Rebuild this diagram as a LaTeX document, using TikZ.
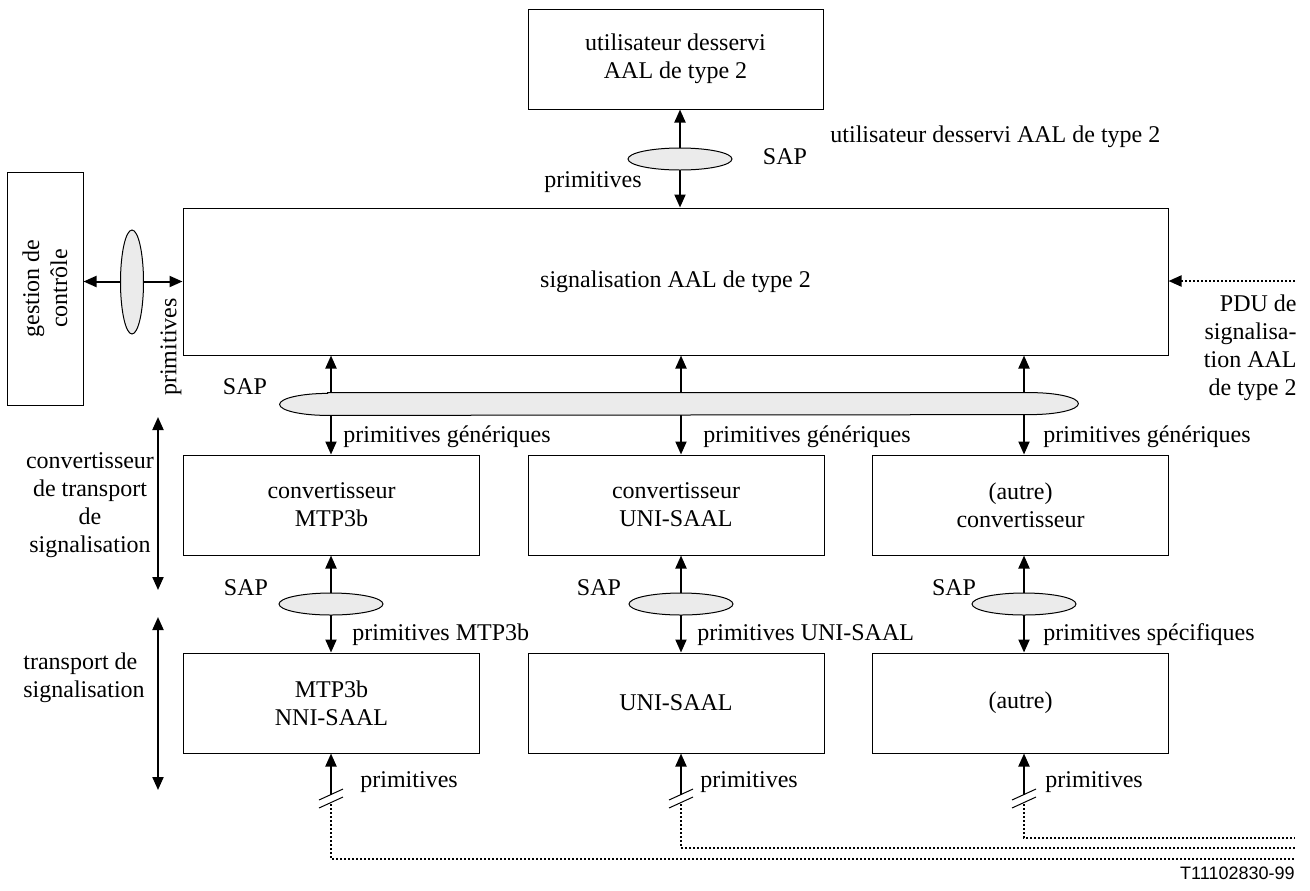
\documentclass[tikz,border=0pt]{standalone}
\usepackage{fontspec}
\setmainfont{Liberation Serif}
\newfontfamily\figsans{Liberation Sans}
\usetikzlibrary{arrows.meta,shapes.geometric}

\begin{document}
\begin{tikzpicture}[x=0.5pt,y=-0.5pt,
      every node/.style={font=\fontsize{12}{14}\selectfont,inner sep=0pt},
      box/.style={draw,line width=0.5pt,align=center,
        minimum width=148pt,minimum height=50pt},
      sap/.style={draw,ellipse,line width=0.5pt,fill=black!8,
        minimum width=52pt,minimum height=11pt},
      tip/.tip={Triangle[length=6.5pt,width=5.5pt]},
      dbl/.style={line width=1pt,tip-tip},
      up/.style={line width=1pt,-tip},
      pdu/.style={line width=1pt,dash pattern=on 1pt off 1pt}]
  \useasboundingbox (0,0) rectangle (1310,890);
  \node[box,minimum width=147.5pt] (user) at (675.5,59) {utilisateur desservi\\AAL de type 2};
  \node[box,minimum width=492.5pt,minimum height=73.5pt] (sig) at (675.5,281.5)
    {signalisation AAL de type 2};
  \node[box,rotate=90,minimum width=116.5pt,minimum height=38pt] (ctrl) at (45,288.5)
    {gestion de\\contrôle};
  \node[box] (conv1) at (331.5,505) {convertisseur\\MTP3b};
  \node[box] (conv2) at (676,505) {convertisseur\\UNI-SAAL};
  \node[box] (conv3) at (1020.5,505) {(autre)\\convertisseur};
  \node[box] (tr1) at (331.5,703) {MTP3b\\NNI-SAAL};
  \node[box] (tr2) at (676,703) {UNI-SAAL};
  \node[box] (tr3) at (1020.5,703) {(autre)};

  \coordinate (cu) at (680,0);
  \coordinate (ca) at (331,0);
  \coordinate (cb) at (681,0);
  \coordinate (cc) at (1024,0);

  \draw[dbl] (user.south -| cu) -- (sig.north -| cu);
  \draw[dbl] (ctrl.south |- sig.west) -- (sig.west);
  \coordinate (pduin) at (1295,281);
  \draw[pdu,-tip] (pduin) -- (pduin -| sig.east);
  \foreach \c/\a/\b in {ca/conv1/tr1,cb/conv2/tr2,cc/conv3/tr3}{
    \draw[dbl] (sig.south -| \c) -- (\a.north -| \c);
    \draw[dbl] (\a.south -| \c) -- (\b.north -| \c);
    \node[sap] (sap\c) at (\c |- 0,604) {};
  }
  \node[sap] (usap) at (680,159) {};
  \node[sap,minimum width=11.5pt,minimum height=52pt] (csap) at (132,282) {};
  \node[minimum width=399pt,minimum height=11pt] (gsap) at (679,404) {};
  \draw[line width=0.5pt,fill=black!8] ([xshift=24pt]gsap.north west)
    -- ([xshift=-24pt]gsap.north east)
    arc[start angle=90,end angle=-90,x radius=24pt,y radius=5.5pt]
    -- ([xshift=24pt]gsap.south west)
    arc[start angle=270,end angle=90,x radius=24pt,y radius=5.5pt] -- cycle;

  \foreach \c/\t/\y in {ca/tr1/859,cb/tr2/848,cc/tr3/838}{
    \coordinate (brk\c) at (\c |- 0,795);
    \coordinate (end\c) at (1295,\y);
    \draw[up] (brk\c) -- (\t.south -| \c);
    \draw[line width=0.5pt] ([shift={(-12,5)}]brk\c) -- ++(24,-11);
    \draw[line width=0.5pt] ([shift={(-12,13)}]brk\c) -- ++(24,-11);
    \draw[pdu] ([yshift=-4.5pt]brk\c) -- (\c |- end\c) -- (end\c);
  }

  \coordinate (lt1) at (158,417);
  \coordinate (lb1) at (158,590);
  \coordinate (lt2) at (158,617);
  \coordinate (lb2) at (158,790);
  \draw[dbl] (lt1) -- (lb1);
  \draw[dbl] (lt2) -- (lb2);

  \node (usaplbl) at (785,157) {SAP};
  \node (uprim) at (593,182) {primitives};
  \node[anchor=west] (ulbl) at (830,137) {utilisateur desservi AAL de type 2};
  \node[rotate=90] (cprim) at (171,347) {primitives};
  \node (gsaplbl) at (245,387) {SAP};
  \foreach \x[count=\i] in {343,703,1043}
    \node[anchor=west] (gen\i) at (\x,437) {primitives génériques};
  \node[align=right,anchor=east] (pdulbl) at (1297,348)
    {PDU de\\signalisa-\\tion AAL\\de type 2};
  \node[align=center] (convlbl) at (90,505)
    {convertisseur\\de transport\\de\\signalisation};
  \node[align=left,anchor=west] (trlbl) at (23,678) {transport de\\signalisation};
  \foreach \x[count=\i] in {246,599,954}
    \node (saplbl\i) at (\x,588) {SAP};
  \node[anchor=west] (sprim1) at (352,635) {primitives MTP3b};
  \node[anchor=west] (sprim2) at (697,635) {primitives UNI-SAAL};
  \node[anchor=west] (sprim3) at (1043,635) {primitives spécifiques};
  \foreach \x[count=\i] in {360,700,1045}
    \node[anchor=west] (bprim\i) at (\x,782) {primitives};
  \node[anchor=east,font=\figsans\fontsize{9}{10}\selectfont] (figno) at (1295,873)
    {T11102830-99};
\end{tikzpicture}
\end{document}
